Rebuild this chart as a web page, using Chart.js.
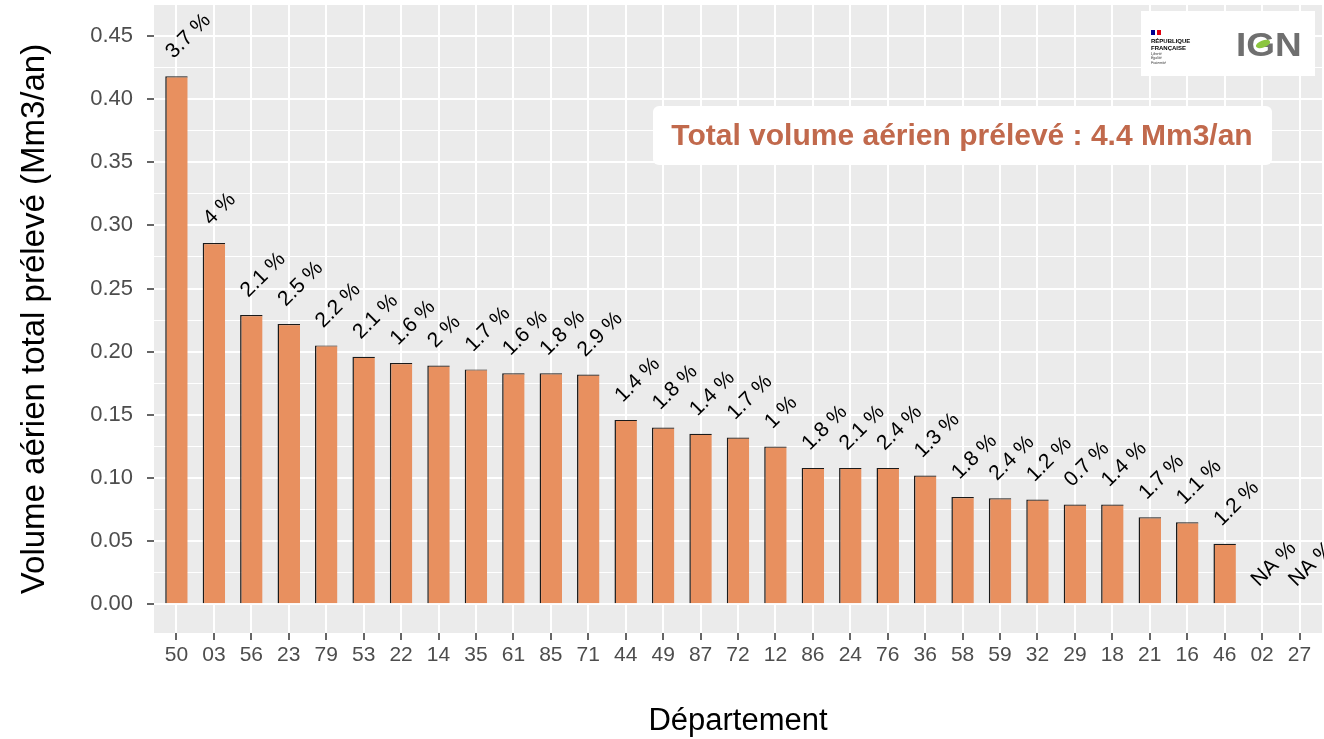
<!DOCTYPE html>
<html lang="fr">
<head>
<meta charset="utf-8">
<title>Volume aérien total prélevé par département</title>
<script src="https://cdn.jsdelivr.net/npm/chart.js@4.4.1/dist/chart.umd.min.js"></script>
<style>
  html, body { margin: 0; padding: 0; background: #ffffff; }
  canvas { display: block; }
</style>
</head>
<body>
<canvas id="volumeChart" width="1324" height="739"></canvas>
<script>
// --- DATA ---
const departements = ['50', '03', '56', '23', '79', '53', '22', '14', '35', '61', '85', '71', '44', '49', '87', '72',
    '12', '86', '24', '76', '36', '58', '59', '32', '29', '18', '21', '16', '46', '02', '27'];
const volumes = [0.418, 0.286, 0.229, 0.222, 0.205, 0.196, 0.191, 0.189, 0.186, 0.183, 0.183, 0.182, 0.146, 0.140, 0.135, 0.132,
    0.125, 0.108, 0.108, 0.108, 0.102, 0.085, 0.084, 0.083, 0.079, 0.079, 0.069, 0.065, 0.048, null, null];
const parts = ['3.7', '4', '2.1', '2.5', '2.2', '2.1', '1.6', '2', '1.7', '1.6', '1.8', '2.9', '1.4', '1.8', '1.4', '1.7',
    '1', '1.8', '2.1', '2.4', '1.3', '1.8', '2.4', '1.2', '0.7', '1.4', '1.7', '1.1', '1.2', 'NA', 'NA'];
const yMajorTicks = [0, 0.05, 0.10, 0.15, 0.20, 0.25, 0.30, 0.35, 0.40, 0.45];
const yMinorTicks = [0.025, 0.075, 0.125, 0.175, 0.225, 0.275, 0.325, 0.375, 0.425];
const totalText = 'Total volume aérien prélevé : 4.4 Mm3/an';

const FONT = "'Liberation Sans', Arial, sans-serif";
Chart.defaults.font.family = FONT;

const isMajor = v => yMajorTicks.some(t => Math.abs(t - v) < 1e-9);

// grey ggplot panel
const panelBackground = {
    id: 'panelBackground',
    beforeDraw(chart) {
        const { ctx, chartArea: a } = chart;
        ctx.save();
        ctx.fillStyle = '#EBEBEB';
        ctx.fillRect(a.left, a.top, a.right - a.left, a.bottom - a.top);
        ctx.restore();
    }
};

// rotated "x %" labels above each bar
const barLabels = {
    id: 'barLabels',
    afterDatasetsDraw(chart) {
        const ctx = chart.ctx;
        const xs = chart.scales.x, ys = chart.scales.y;
        ctx.save();
        ctx.font = '21px ' + FONT;
        ctx.fillStyle = '#000000';
        ctx.textAlign = 'left';
        ctx.textBaseline = 'alphabetic';
        parts.forEach((p, i) => {
            const x = xs.getPixelForValue(i);
            const y = ys.getPixelForValue(volumes[i] == null ? 0 : volumes[i]);
            ctx.save();
            ctx.translate(x - 3, y - 17);
            ctx.rotate(-Math.PI / 4);
            ctx.fillText(p + ' %', 0, 0);
            ctx.restore();
        });
        ctx.restore();
    }
};

// total box + logos
const decorations = {
    id: 'decorations',
    afterDraw(chart) {
        const ctx = chart.ctx;
        ctx.save();
        // total annotation
        ctx.fillStyle = '#ffffff';
        ctx.beginPath();
        ctx.roundRect(653, 106, 619, 59, 6);
        ctx.fill();
        ctx.fillStyle = '#C1694C';
        ctx.font = 'bold 30px ' + FONT;
        ctx.textAlign = 'center';
        ctx.textBaseline = 'middle';
        ctx.fillText(totalText, 962, 137);

        // logo box
        ctx.fillStyle = '#ffffff';
        ctx.fillRect(1141, 11, 174, 65);
        // flag
        ctx.fillStyle = '#000091';
        ctx.fillRect(1151, 30, 4, 5);
        ctx.fillStyle = '#E1000F';
        ctx.fillRect(1157, 30, 4, 5);
        ctx.fillStyle = '#000000';
        ctx.textAlign = 'left';
        ctx.textBaseline = 'middle';
        ctx.font = 'bold 6px ' + FONT;
        ctx.fillText('RÉPUBLIQUE', 1151, 41);
        ctx.fillText('FRANÇAISE', 1151, 48);
        ctx.font = 'italic 3.5px ' + FONT;
        ctx.fillStyle = '#333333';
        ctx.fillText('Liberté', 1151, 54);
        ctx.fillText('Égalité', 1151, 58.5);
        ctx.fillText('Fraternité', 1151, 63);
        // IGN
        ctx.save();
        ctx.translate(1236, 56);
        ctx.scale(1.12, 1);
        ctx.fillStyle = '#6F6F6F';
        ctx.font = 'bold 33px ' + FONT;
        ctx.textBaseline = 'alphabetic';
        ctx.fillText('IGN', 0, 0);
        ctx.restore();
        ctx.fillStyle = '#8CC63F';
        ctx.beginPath();
        ctx.ellipse(1263, 44, 7.5, 3.5, -0.35, 0, Math.PI * 2);
        ctx.fill();
        ctx.restore();
    }
};

new Chart(document.getElementById('volumeChart'), {
    type: 'bar',
    data: {
        datasets: [{
            data: volumes.map((v, i) => ({ x: i, y: v })),
            backgroundColor: '#E8905F',
            borderColor: '#1a1a1a',
            borderWidth: { left: 1.5, top: 1.2, right: 0, bottom: 0 },
            borderSkipped: false,
            categoryPercentage: 1,
            barPercentage: 0.6
        }]
    },
    options: {
        responsive: false,
        devicePixelRatio: 1,
        animation: false,
        layout: { padding: { top: 5, right: 2, left: 0, bottom: 0 } },
        plugins: {
            legend: { display: false },
            tooltip: { enabled: false }
        },
        scales: {
            x: {
                type: 'linear',
                offset: false,
                min: -0.6,
                max: 30.6,
                afterBuildTicks: s => { s.ticks = departements.map((d, i) => ({ value: i })); },
                afterFit: s => { s.height = 106; s.paddingLeft = 0; s.paddingRight = 0; },
                border: { display: false },
                grid: { offset: false, color: '#ffffff', lineWidth: 2, tickColor: '#333333', tickLength: 7, tickWidth: 1.5 },
                ticks: {
                    autoSkip: false,
                    maxRotation: 0,
                    padding: 3,
                    color: '#4D4D4D',
                    font: { size: 21 },
                    callback: v => departements[v]
                },
                title: {
                    display: true,
                    text: 'Département',
                    color: '#000000',
                    font: { size: 31, lineHeight: 1 },
                    padding: { top: 0, bottom: 2 }
                }
            },
            y: {
                min: -0.0227,
                max: 0.4745,
                afterBuildTicks: s => {
                    s.ticks = yMajorTicks.concat(yMinorTicks).sort((a, b) => a - b).map(v => ({ value: v }));
                },
                afterFit: s => { s.width = 154; s.paddingTop = 0; s.paddingBottom = 0; },
                border: { display: false },
                grid: {
                    color: '#ffffff',
                    lineWidth: c => isMajor(c.tick.value) ? 2 : 1,
                    tickColor: c => isMajor(c.tick.value) ? '#333333' : 'rgba(0,0,0,0)',
                    tickLength: 7,
                    tickWidth: 1.5
                },
                ticks: {
                    padding: 14,
                    color: '#4D4D4D',
                    font: { size: 22 },
                    callback: v => isMajor(v) ? v.toFixed(2) : ''
                },
                title: {
                    display: true,
                    text: 'Volume aérien total prélevé (Mm3/an)',
                    color: '#000000',
                    font: { size: 33, lineHeight: 1 },
                    padding: { top: 18, bottom: 0 }
                }
            }
        }
    },
    plugins: [panelBackground, barLabels, decorations]
});
</script>
</body>
</html>
